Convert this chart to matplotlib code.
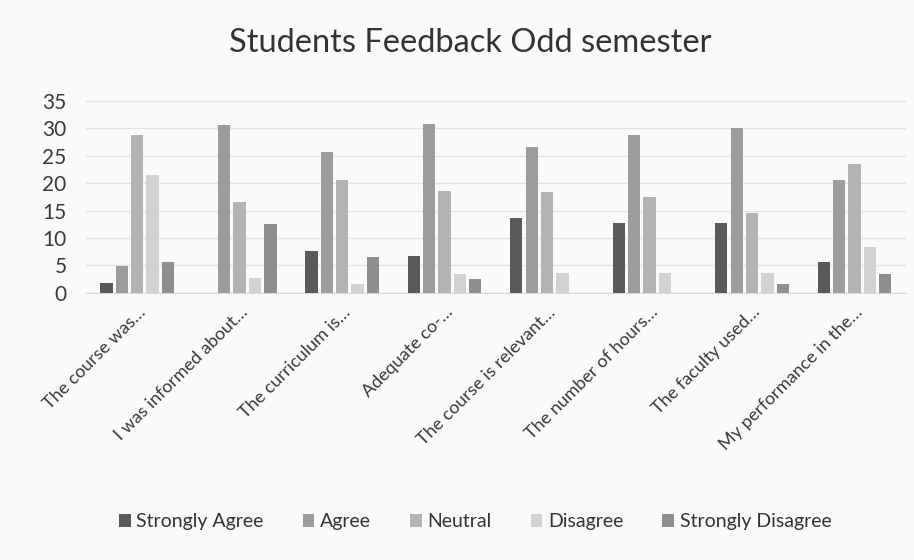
import numpy as np
import matplotlib.pyplot as plt

plt.rcParams['font.family'] = ['Lato', 'DejaVu Sans']

questions = ['The course was…', 'I was informed about…', 'The curriculum is…',
             'Adequate co-…', 'The course is relevant…', 'The number of hours…',
             'The faculty used…', 'My performance in the…']
strongly_agree = [1.8, 0, 7.6, 6.7, 13.6, 12.8, 12.7, 5.6]
agree = [4.9, 30.6, 25.6, 30.7, 26.6, 28.8, 30.0, 20.6]
neutral = [28.7, 16.6, 20.5, 18.5, 18.4, 17.5, 14.5, 23.5]
disagree = [21.5, 2.7, 1.6, 3.4, 3.6, 3.7, 3.6, 8.4]
strongly_disagree = [5.7, 12.6, 6.6, 2.5, 0, 0, 1.7, 3.5]

series = [strongly_agree, agree, neutral, disagree, strongly_disagree]
names = ['Strongly Agree', 'Agree', 'Neutral', 'Disagree', 'Strongly Disagree']
colors = ['#5a5a5a', '#9c9c9c', '#b3b3b3', '#d2d2d2', '#8e8e8e']

fig = plt.figure(figsize=(9.14, 5.6), dpi=100)
fig.patch.set_facecolor('#fafafa')
ax = fig.add_axes([0.094, 0.477, 0.897, 0.343])
ax.set_facecolor('#fafafa')

index = np.arange(len(questions))
slot = 0.15
bar_width = 0.12
for i, (vals, name, c) in enumerate(zip(series, names, colors)):
    ax.bar(index + (i - 2) * slot, vals, bar_width, color=c, label=name, zorder=3)

ax.set_xlim(-0.5, len(questions) - 0.5)
ax.set_ylim(0, 35)
ax.set_yticks(range(0, 36, 5))
ax.grid(axis='y', color='#e2e2e2', linewidth=1, zorder=0)
for s in ['top', 'right', 'left']:
    ax.spines[s].set_visible(False)
ax.spines['bottom'].set_color('#d8d8d8')
ax.tick_params(axis='y', length=0, labelsize=15, colors='#3a3a3a', pad=14)
ax.set_xticks(index)
ax.set_xticklabels(questions, rotation=45, ha='right', rotation_mode='anchor',
                   fontsize=13, color='#3a3a3a')
ax.tick_params(axis='x', length=0, pad=8)

fig.suptitle('Students Feedback Odd semester', x=0.515, y=0.95, fontsize=23.5, color='#333333')

fig.legend(loc='center', bbox_to_anchor=(0.52, 0.068), ncol=5, frameon=False,
           fontsize=14, handlelength=0.6, handleheight=0.6, handletextpad=0.3,
           columnspacing=2.0, labelcolor='#333333')

fig.savefig('out.png', dpi=100, facecolor=fig.get_facecolor())
